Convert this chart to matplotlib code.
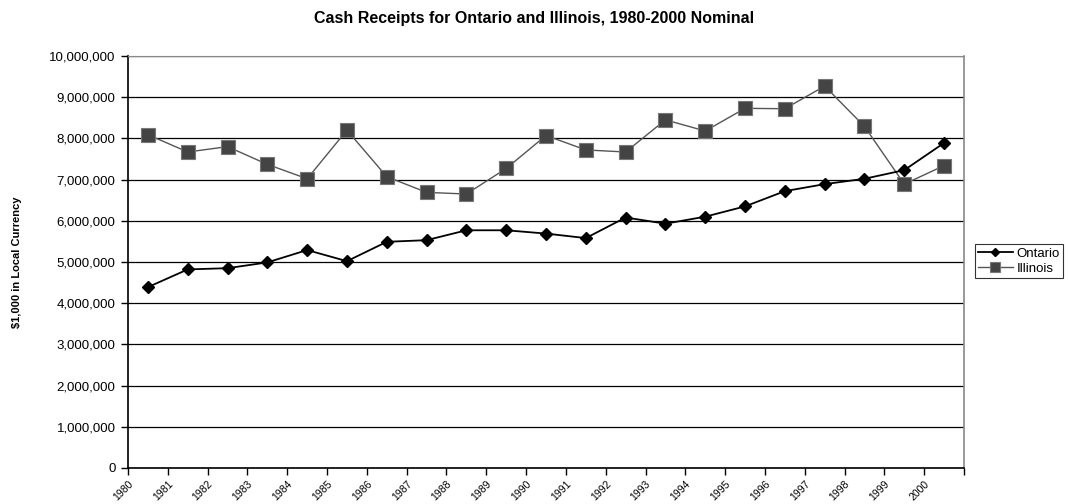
import matplotlib
matplotlib.use("Agg")
import matplotlib.pyplot as plt
from matplotlib.ticker import FuncFormatter
from matplotlib.transforms import ScaledTranslation

years = list(range(1980, 2001))
ontario = [4390000, 4820000, 4850000, 4990000, 5290000, 5020000, 5490000, 5530000,
           5770000, 5770000, 5690000, 5580000, 6080000, 5930000, 6100000, 6350000,
           6720000, 6890000, 7020000, 7230000, 7890000]
illinois = [8090000, 7670000, 7800000, 7370000, 7020000, 8200000, 7070000, 6690000,
            6650000, 7270000, 8070000, 7720000, 7670000, 8450000, 8180000, 8730000,
            8720000, 9270000, 8290000, 6890000, 7340000]
yticks = list(range(0, 10000001, 1000000))

plt.rcParams['font.family'] = ['Liberation Sans', 'DejaVu Sans']

fig = plt.figure(figsize=(10.68, 5.04), dpi=100)
ax = fig.add_axes([128/1068, 1-468/504, (964-128)/1068, (468-56)/504])

x = list(range(len(years)))
ax.plot(x, ontario, color='black', lw=1.3, marker='D', markersize=6.5,
        markerfacecolor='black', markeredgecolor='black', label='Ontario', zorder=4)
ax.plot(x, illinois, color='#555555', lw=1.0, marker='s', markersize=10.5,
        markerfacecolor='#444444', markeredgecolor='#777777', markeredgewidth=0.8,
        label='Illinois', zorder=3)

ax.set_xlim(-0.5, len(years) - 0.5)
ax.set_ylim(0, 10000000)
ax.set_yticks(yticks)
ax.yaxis.set_major_formatter(FuncFormatter(lambda v, p: f"{int(v):,}"))
ax.grid(axis='y', color='black', lw=0.9)
ax.set_axisbelow(True)

ticks = [i - 0.5 for i in range(len(years) + 1)]
ax.set_xticks(ticks)
ax.set_xticklabels([str(y) for y in years] + [''], rotation=45, ha='right',
                   rotation_mode='anchor', fontsize=7.5)
off = ScaledTranslation(5/100, 0, fig.dpi_scale_trans)
for lab in ax.get_xticklabels():
    lab.set_transform(lab.get_transform() + off)
ax.tick_params(axis='x', direction='out', length=5, width=1, pad=3)
ax.tick_params(axis='y', direction='out', length=5, width=1, labelsize=9.5, pad=4)

for s in ['left', 'bottom']:
    ax.spines[s].set_color('black')
    ax.spines[s].set_linewidth(1.2)
ax.spines['right'].set_color('#888888')
ax.spines['right'].set_linewidth(1.2)
ax.spines['top'].set_color('#888888')

ax.set_ylabel('$1,000 in Local Currency', fontsize=8, fontweight='bold')
ax.yaxis.set_label_coords(-0.127, 0.5)

fig.text(534/1068, 1-18/504, 'Cash Receipts for Ontario and Illinois, 1980-2000 Nominal',
         ha='center', va='center', fontsize=11.5, fontweight='bold')

leg = fig.legend(loc='upper left', bbox_to_anchor=(975/1068, 1-244/504), frameon=True,
                 fancybox=False, edgecolor='black', fontsize=9.5, handlelength=2.6,
                 markerscale=0.7, borderpad=0.25, labelspacing=0.25, handletextpad=0.3,
                 borderaxespad=0)
leg.get_frame().set_linewidth(0.8)

fig.savefig('out.png', dpi=100)
